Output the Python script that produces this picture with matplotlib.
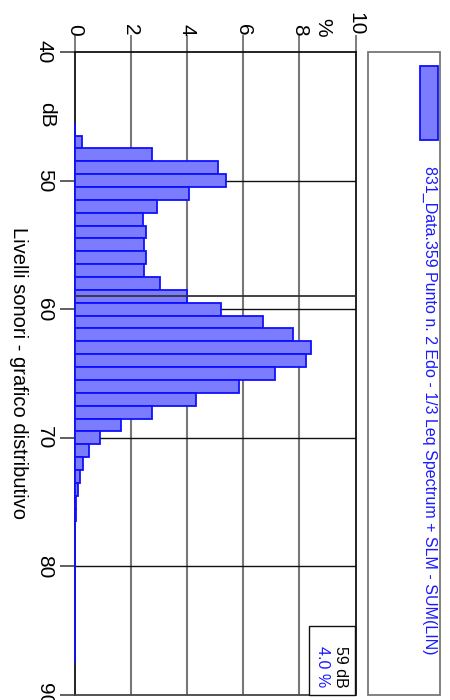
import matplotlib
matplotlib.use("Agg")
import matplotlib.pyplot as plt
from matplotlib.patches import Rectangle

plt.rcParams['font.family'] = ['Liberation Sans', 'DejaVu Sans']

# Data
levels_db = [46, 47, 48, 49, 50, 51, 52, 53, 54, 55, 56, 57, 58, 59, 60,
             61, 62, 63, 64, 65, 66, 67, 68, 69, 70, 71, 72, 73, 74, 75,
             76, 77, 78, 79, 80, 81, 82, 83, 84, 85, 86, 87]
percent = [0.03, 0.28, 2.75, 5.09, 5.40, 4.06, 2.95, 2.43, 2.53, 2.49, 2.53, 2.49, 3.05, 4.02, 5.21,
           6.72, 7.76, 8.41, 8.25, 7.15, 5.84, 4.32, 2.75, 1.67, 0.90, 0.51, 0.31, 0.19, 0.12, 0.07,
           0.04, 0.03, 0.03, 0.03, 0.03, 0.03, 0.03, 0.03, 0.03, 0.03, 0.03, 0.03]
x_ticks = [0, 2, 4, 6, 8, 10]
y_ticks = [40, 50, 60, 70, 80, 90]
cursor_db = 59
cursor_pct = "4.0 %"
legend_label = "831_Data.359 Punto n. 2 Edo - 1/3 Leq Spectrum + SLM - SUM(LIN)"
x_title = "Livelli sonori - grafico distributivo"

W, H = 450, 700
fig = plt.figure(figsize=(W / 100, H / 100), dpi=100)

def fx(x):
    return x / W

def fy(y):
    return 1 - y / H

ax_l, ax_r, ax_t, ax_b = 74.5, 355.5, 52, 695
ax = fig.add_axes([fx(ax_l), fy(ax_b), fx(ax_r - ax_l), (ax_b - ax_t) / H])

bar_face = '#7c7cff'
bar_edge = '#1010ff'
ax.barh(levels_db, percent, height=1.0, color=bar_face, edgecolor=bar_edge, linewidth=1.3,
        zorder=3, clip_on=False)

ax.set_xlim(0, 10)
ax.set_ylim(90, 40)

ax.set_xticks(x_ticks)
ax.set_yticks(y_ticks)
ax.xaxis.tick_top()
ax.tick_params(axis='x', which='both', direction='out', length=12, width=1.2, color='#666666',
               labelsize=15, pad=0, labelrotation=-90)
ax.tick_params(axis='y', which='both', direction='out', length=11, width=1.2, color='#444444',
               labelsize=15, pad=4, labelrotation=-90)
for lab in ax.get_yticklabels():
    lab.set_va('center')
    lab.set_ha('right')
for lab in ax.get_xticklabels():
    lab.set_ha('center')
    lab.set_va('bottom')

# grid: vertical gray, horizontal black
for xv in x_ticks[1:-1]:
    ax.axvline(xv, color='#777777', linewidth=1.5, zorder=1)
for yv in y_ticks[1:-1]:
    ax.axhline(yv, color='#111111', linewidth=1.0, zorder=1)

for sp in ax.spines.values():
    sp.set_color('#111111')
    sp.set_linewidth(1.3)
ax.spines['bottom'].set_color('#444444')

# cursor line
ax.axhline(cursor_db, color='#333333', linewidth=1.3, zorder=4)

# axis labels
fig.text(fx(323), fy(27), "%", rotation=-90, fontsize=15, ha='center', va='center')
fig.text(fx(47), fy(115), "dB", rotation=-90, fontsize=15, ha='center', va='center')
fig.text(fx(18), fy(373), x_title, rotation=-90, fontsize=14.5, ha='center', va='center')

# legend box
fig.patches.append(Rectangle((fx(368), fy(695)), fx(440 - 368), (695 - 52) / H,
                             transform=fig.transFigure, fill=False, edgecolor='#777777', linewidth=1.3))
fig.patches.append(Rectangle((fx(419.5), fy(140)), fx(437.5 - 419.5), (140 - 66) / H,
                             transform=fig.transFigure, facecolor=bar_face, edgecolor=bar_edge, linewidth=1.3))
fig.text(fx(430), fy(166), legend_label, rotation=-90, fontsize=11.55, color='#1a1aff',
         ha='center', va='top')

# cursor box
fig.patches.append(Rectangle((fx(309), fy(695)), fx(355 - 309), (695 - 626) / H,
                             transform=fig.transFigure, facecolor='white', edgecolor='#111111',
                             linewidth=1.0, zorder=5))
fig.text(fx(341), fy(667), f"{cursor_db} dB", rotation=-90, fontsize=11.5, color='black',
         ha='center', va='center', zorder=6)
fig.text(fx(322), fy(667), cursor_pct, rotation=-90, fontsize=11.5, color='#1a1aff',
         ha='center', va='center', zorder=6)

fig.savefig("out.png", dpi=100)
